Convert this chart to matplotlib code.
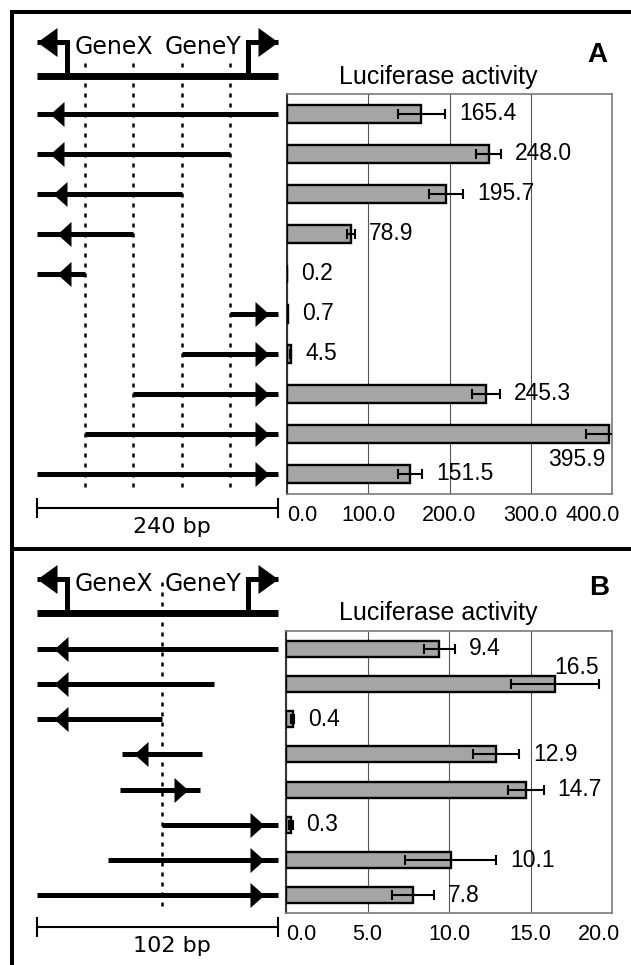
import matplotlib
matplotlib.use('Agg')
import matplotlib.pyplot as plt
from matplotlib.lines import Line2D

W, H, DPI = 631, 965, 100
PT = 72 / DPI  # points per pixel

# panel A: 240 bp region, 10 constructs
a_values = [165.4, 248.0, 195.7, 78.9, 0.2, 0.7, 4.5, 245.3, 395.9, 151.5]
a_errors = [29, 15, 21, 4.5, 0.1, 0.3, 1.0, 17, 28, 14.5]
a_starts = [0, 0, 0, 0, 0, 192, 144, 96, 48, 0]
a_ends = [240, 192, 144, 96, 48, 240, 240, 240, 240, 240]
a_dirs = ['L', 'L', 'L', 'L', 'L', 'R', 'R', 'R', 'R', 'R']
a_tips = [13, 13, 16, 20, 20, 231, 231, 231, 231, 231]
a_marks = [48, 96, 144, 192]
a_span = 240
a_ticks = [0, 100, 200, 300, 400]
a_ticklabels = ['0.0', '100.0', '200.0', '300.0', '400.0']

# panel B: 102 bp region, 8 constructs
b_values = [9.4, 16.5, 0.4, 12.9, 14.7, 0.3, 10.1, 7.8]
b_errors = [0.95, 2.7, 0.1, 1.4, 1.1, 0.1, 2.8, 1.3]
b_starts = [0, 0, 0, 36, 35, 53, 30, 0]
b_ends = [102, 75, 53, 70, 69, 102, 102, 102]
b_dirs = ['L', 'L', 'L', 'L', 'R', 'R', 'R', 'R']
b_tips = [7, 7, 7, 41, 64, 96, 96, 96]
b_marks = [53]
b_span = 102
b_ticks = [0, 5, 10, 15, 20]
b_ticklabels = ['0.0', '5.0', '10.0', '15.0', '20.0']

NUM_FONT = 'Liberation Sans'
MAP_FONT = 'DejaVu Sans'


def px_rect(left, top, right, bottom):
    return [left / W, 1 - bottom / H, (right - left) / W, (bottom - top) / H]


def tri(length, height, direction):
    s = 1 if direction == 'L' else -1
    verts = [(0, 0), (s * length, height / 2), (s * length, -height / 2)]
    return verts, 2 * max(length, height / 2) * PT


def draw_bars(ax, values, errors, ticks, ticklabels, special):
    n = len(values)
    rows = list(range(n))
    ax.barh(rows, values, height=0.46, color='#a5a5a5', edgecolor='black',
            linewidth=1.7, zorder=3)
    ax.errorbar(values, rows, xerr=errors, fmt='none', ecolor='black',
                elinewidth=1.5, capsize=3.6, capthick=1.5, zorder=4)
    ax.set_xlim(ticks[0], ticks[-1])
    ax.set_ylim(n - 0.5, -0.5)
    ax.set_yticks([])
    ax.set_xticks(ticks)
    ax.set_xticklabels([])
    ax.tick_params(axis='x', length=0)
    # tick labels: first flush left, last flush right (a little past the frame)
    tr = ax.get_xaxis_transform()
    for k, (t, lab) in enumerate(zip(ticks, ticklabels)):
        ha, dx = 'center', 0
        if k == 0:
            ha = 'left'
        elif k == len(ticks) - 1:
            ha, dx = 'right', 6
        ax.annotate(lab, xy=(t, 0), xycoords=tr, xytext=(dx, -8),
                    textcoords='offset points', ha=ha, va='top',
                    fontsize=15.5, family=NUM_FONT, annotation_clip=False)
    ax.grid(axis='x', color='#555555', linewidth=0.8)
    ax.set_axisbelow(True)
    for side in ['top', 'right', 'bottom']:
        ax.spines[side].set_color('#7a7a7a')
        ax.spines[side].set_linewidth(1.2)
    ax.spines['left'].set_color('#333333')
    ax.spines['left'].set_linewidth(1.5)
    for i, (v, e) in enumerate(zip(values, errors)):
        if i in special:
            x, dx, dy = special[i]
            ax.annotate(f'{v:.1f}', xy=(x(v, e), i), xytext=(dx, dy),
                        textcoords='offset points', ha='right', va='center',
                        fontsize=16.5, family=NUM_FONT, annotation_clip=False)
        else:
            ax.annotate(f'{v:.1f}', xy=(v + e, i), xytext=(10, 0),
                        textcoords='offset points', ha='left', va='center',
                        fontsize=16.5, family=NUM_FONT, annotation_clip=False)


def draw_map(ax, rect_px, span, marks, starts, ends, dirs, tips, dot_top, scale_label):
    n = len(starts)
    row_px = (rect_px[3] - rect_px[1]) / n

    def up(px):
        return -0.5 - px / row_px

    def down(px):
        return n - 0.5 + px / row_px

    ax.set_xlim(0, span)
    ax.set_ylim(n - 0.5, -0.5)
    ax.axis('off')

    # gene line with two divergent promoters
    gy, ay = up(18), up(52)
    ax.plot([0, span], [gy, gy], color='black', lw=5, solid_capstyle='butt', clip_on=False)
    for x0, d in [(span * 0.125, 'L'), (span * 0.875, 'R')]:
        tip = 0 if d == 'L' else span
        ax.plot([x0, x0, tip], [gy, ay, ay], color='black', lw=3.6,
                solid_joinstyle='miter', solid_capstyle='butt', clip_on=False)
        verts, ms = tri(20, 29, d)
        ax.plot([tip], [ay], marker=verts, ms=ms, color='black', mew=0, clip_on=False)
    ax.text(span * 0.317, up(47), 'GeneX', ha='center', va='center',
            fontsize=17, family=MAP_FONT)
    ax.text(span * 0.687, up(47), 'GeneY', ha='center', va='center',
            fontsize=17, family=MAP_FONT)

    for m in marks:
        ax.plot([m, m], [up(dot_top), down(-4)], color='black', lw=1.8,
                ls=(0, (1.6, 2.4)), clip_on=False)

    for i, (s, e, d, t) in enumerate(zip(starts, ends, dirs, tips)):
        ax.plot([s, e], [i, i], color='black', lw=3.6, solid_capstyle='butt', clip_on=False)
        verts, ms = tri(14, 25, d)
        ax.plot([t], [i], marker=verts, ms=ms, color='black', mew=0, clip_on=False)

    sy = down(14)
    ax.plot([0, span], [sy, sy], color='black', lw=1.5, clip_on=False)
    ax.plot([0, span], [sy, sy], ls='none', marker='|', ms=20 * PT, mew=1.5,
            color='black', clip_on=False)
    ax.text(span * 0.56, down(33), scale_label, ha='center', va='center',
            fontsize=16, family=MAP_FONT)


fig = plt.figure(figsize=(W / DPI, H / DPI), dpi=DPI)
fig.patch.set_facecolor('white')

# panel A
a_map_rect = (37, 94, 278, 494)
ax_map_a = fig.add_axes(px_rect(*a_map_rect))
draw_map(ax_map_a, a_map_rect, a_span, a_marks, a_starts, a_ends, a_dirs, a_tips, 31, '240 bp')
ax_a = fig.add_axes(px_rect(287, 94, 612, 494))
draw_bars(ax_a, a_values, a_errors, a_ticks, a_ticklabels,
          {8: (lambda v, e: v, -2, -18)})
fig.text(438 / W, 1 - 77 / H, 'Luciferase activity', ha='center', va='center',
         fontsize=18, family=NUM_FONT)
fig.text(597 / W, 1 - 55 / H, 'A', ha='center', va='center', fontsize=20,
         fontweight='bold', family=NUM_FONT)

# panel B
b_map_rect = (37, 631, 278, 913)
ax_map_b = fig.add_axes(px_rect(*b_map_rect))
draw_map(ax_map_b, b_map_rect, b_span, b_marks, b_starts, b_ends, b_dirs, b_tips, 49, '102 bp')
ax_b = fig.add_axes(px_rect(286, 631, 612, 913))
draw_bars(ax_b, b_values, b_errors, b_ticks, b_ticklabels,
          {1: (lambda v, e: v + e, 0, 12)})
fig.text(438 / W, 1 - 613 / H, 'Luciferase activity', ha='center', va='center',
         fontsize=18, family=NUM_FONT)
fig.text(599 / W, 1 - 588 / H, 'B', ha='center', va='center', fontsize=20,
         fontweight='bold', family=NUM_FONT)

# panel frames
for xs, ys in [([12, 12], [12, H + 5]), ([12, W + 5], [12, 12]), ([12, W + 5], [549, 549])]:
    fig.add_artist(Line2D([x / W for x in xs], [1 - y / H for y in ys],
                          transform=fig.transFigure, color='black', lw=2.9))

fig.savefig('out.png', dpi=DPI, facecolor='white')
